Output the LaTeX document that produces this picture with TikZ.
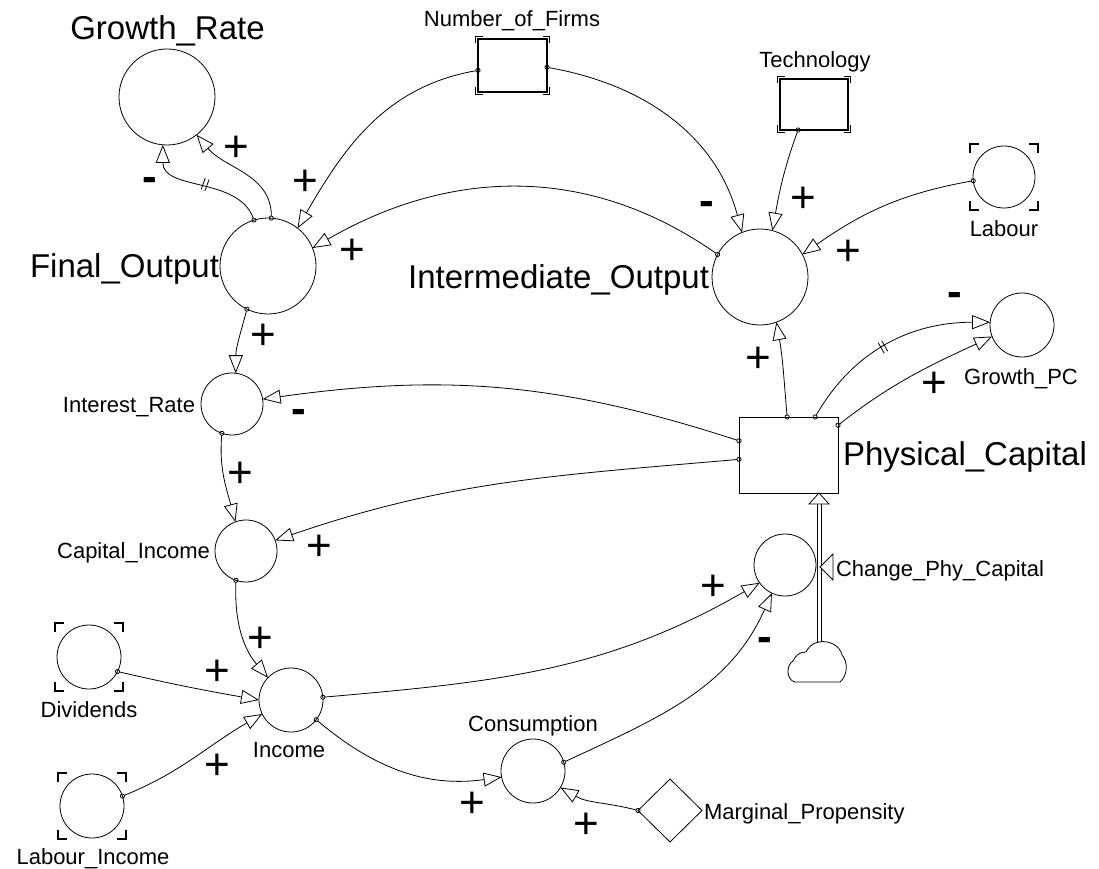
\documentclass[tikz,border=0pt]{standalone}
\usepackage{fontspec}
\setmainfont{Liberation Sans}
\usetikzlibrary{arrows.meta,shapes.geometric,calc,decorations.markings}
\newcommand\ghostcorners[4]{% node, half width, half height, arm
  \draw[brk] ($(#1.center)+(-#2,#3-#4)$) -- ++(0,#4) -- ++(#4,0);
  \draw[brk] ($(#1.center)+(#2,#3-#4)$) -- ++(0,#4) -- ++(-#4,0);
  \draw[brk] ($(#1.center)+(-#2,-#3+#4)$) -- ++(0,-#4) -- ++(#4,0);
  \draw[brk] ($(#1.center)+(#2,-#3+#4)$) -- ++(0,-#4) -- ++(-#4,0);
}
\begin{document}
\begin{tikzpicture}[x=1pt,y=1pt,
  every node/.style={inner sep=0pt, outer sep=0pt},
  var/.style={circle, draw, line width=0.8pt, minimum size=#1},
  var/.default=62pt,
  lvl/.style={rectangle, draw, line width=1.2pt},
  big/.style={font=\fontsize{33}{38}\selectfont},
  small/.style={font=\fontsize{22}{26}\selectfont},
  plus/.style={font=\fontsize{44}{44}\selectfont},
  minus/.style={font=\fontsize{44}{44}\selectfont\bfseries},
  link/.style={line width=0.8pt, {Circle[open,length=5pt]}-{Triangle[open,length=18pt,width=14pt]}, shorten <=-2.5pt},
  brk/.style={line width=1.4pt},
  delay/.style={postaction={decorate, decoration={markings, mark=at position #1 with {\draw[-, shorten <=0pt, shorten >=0pt, line width=0.8pt] (-2,-6)--(-2,6) (2,-6)--(2,6);}}}},
]
\useasboundingbox (0,0) rectangle (1099,-869);

% ---------- nodes ----------
\node[var=96pt] (gr) at (167,-97) {};
\node[var=96pt] (fo) at (268,-266) {};
\node[lvl, minimum width=69pt, minimum height=53pt] (nf) at (512.5,-65.5) {};
\node[lvl, minimum width=68pt, minimum height=51pt] (tech) at (814,-104.5) {};
\node[var] (lab) at (1004,-177) {};
\node[var=96pt] (io) at (760,-277) {};
\node[var=64pt] (gpc) at (1022,-325) {};
\node[draw, line width=0.8pt, minimum width=99pt, minimum height=76pt] (pc) at (788.5,-455) {};
\node[var] (ir) at (232,-404) {};
\node[var] (ci) at (246,-551) {};
\node[var=64pt] (inc) at (291,-700) {};
\node[var=64pt] (div) at (89,-657) {};
\node[var=64pt] (li) at (92,-806) {};
\node[var=64pt] (cons) at (533,-771) {};
\node[diamond, draw, line width=0.8pt, minimum width=64pt, minimum height=63pt] (mp) at (670,-810.5) {};
\node[var] (chg) at (785,-565) {};

\ghostcorners{nf}{37}{29}{7}
\ghostcorners{tech}{36.5}{28}{7}
\ghostcorners{lab}{34}{33}{9}
\ghostcorners{div}{34}{34}{9}
\ghostcorners{li}{34}{33}{9}

% ---------- labels ----------
\node[big, anchor=base] (grl) at (167.5,-40) {Growth\_Rate};
\node[big, anchor=base east] (fol) at (219,-277) {Final\_Output};
\node[big, anchor=base east] (iol) at (709,-288) {Intermediate\_Output};
\node[big, anchor=base west] (pcl) at (843,-465) {Physical\_Capital};
\node[small, anchor=base] (nfl) at (512,-27) {Number\_of\_Firms};
\node[small, anchor=base] (techl) at (815,-68) {Technology};
\node[small, anchor=base] (labl) at (1004,-236) {Labour};
\node[small, anchor=base] (gpcl) at (1021,-384) {Growth\_PC};
\node[small, anchor=base west] (chgl) at (836,-576) {Change\_Phy\_Capital};
\node[small, anchor=base east] (irl) at (195,-412) {Interest\_Rate};
\node[small, anchor=base east] (cil) at (210,-558) {Capital\_Income};
\node[small, anchor=base] (divl) at (89,-717) {Dividends};
\node[small, anchor=base] (incl) at (289,-757) {Income};
\node[small, anchor=base] (lil) at (93,-864) {Labour\_Income};
\node[small, anchor=base] (consl) at (533,-731) {Consumption};
\node[small, anchor=base west] (mpl) at (704,-819) {Marginal\_Propensity};

% ---------- flow ----------
\coordinate (cloudtop) at (819,-642);
\draw[line width=0.8pt] (817,-642) -- (817,-503) (821,-642) -- (821,-503);
\draw[line width=0.8pt, fill=white] (pc.south -| cloudtop) -- ++(-10,-11) -- ++(20,0) -- cycle;
\draw[line width=0.8pt, fill=white] (820,-567) -- (833,-554) -- (833,-580) -- cycle;
\draw[line width=0.8pt, fill=white] (795,-682) -- (840,-682)
  .. controls (848,-675) and (848,-662) .. (842,-655)
  .. controls (840,-645) and (828,-640) .. (819,-642)
  .. controls (812,-643) and (808,-648) .. (806,-652)
  .. controls (798,-652) and (795,-657) .. (793,-661)
  .. controls (786,-665) and (786,-680) .. (795,-682) -- cycle;

% ---------- connectors ----------
\draw[link, delay=0.5] (fo.107) to[out=110,in=-90] (gr.-95);
\draw[link] (fo.86) to[out=90,in=-50] (gr.-52);
\draw[link] (nf.188) to[out=190,in=60] (fo.52);
\draw[link] (io.152) to[out=145,in=30] (fo.22);
\draw[link] (nf.-3) to[out=-10,in=105] (io.112);
\draw[link] (tech.-122) to[out=-110,in=80] (io.75);
\draw[link] (lab.187) to[out=190,in=35] (io.28);
\draw[link] (pc.92) to[out=95,in=-80] (io.-70);
\draw[link, delay=0.47] (pc.55) to[out=60,in=180] (gpc.175);
\draw[link] (pc.31) to[out=38,in=205] (gpc.201);
\draw[link] (fo.244) to[out=-105,in=90] (ir.83);
\draw[link] (pc.164) to[out=162,in=8] (ir.9);
\draw[link] (ir.251) to[out=-95,in=105] (ci.110);
\draw[link] (pc.185) to[out=185,in=19] (ci.20);
\draw[link] (ci.251) to[out=-92,in=130] (inc.136);
\draw[link] (div.-27) to[out=-13,in=170] (inc.180);
\draw[link] (li.18) to[out=22,in=210] (inc.206);
\draw[link] (inc.5) to[out=5,in=210] (chg.215);
\draw[link] (cons.16) to[out=25,in=246] (chg.245);
\draw[link] (inc.-38) to[out=-40,in=188] (cons.191);
\draw[link] (mp.west) to[out=165,in=-30] (cons.-31);

% ---------- polarities ----------
\node[minus] at (150,-179) {\vphantom{+}-};
\node[plus] at (236,-149) {+};
\node[plus] at (305,-183) {+};
\node[plus] at (352,-252) {+};
\node[minus] at (707,-203) {\vphantom{+}-};
\node[plus] at (803,-200) {+};
\node[plus] at (848,-253) {+};
\node[plus] at (758,-360) {+};
\node[minus] at (955,-294) {\vphantom{+}-};
\node[plus] at (934,-385) {+};
\node[plus] at (263,-337) {+};
\node[minus] at (299,-411) {\vphantom{+}-};
\node[plus] at (240,-475) {+};
\node[plus] at (319,-548) {+};
\node[plus] at (260,-640) {+};
\node[plus] at (217,-673) {+};
\node[plus] at (217,-767) {+};
\node[plus] at (713,-588) {+};
\node[minus] at (765,-639) {\vphantom{+}-};
\node[plus] at (472,-805) {+};
\node[plus] at (586,-826) {+};
\end{tikzpicture}
\end{document}
